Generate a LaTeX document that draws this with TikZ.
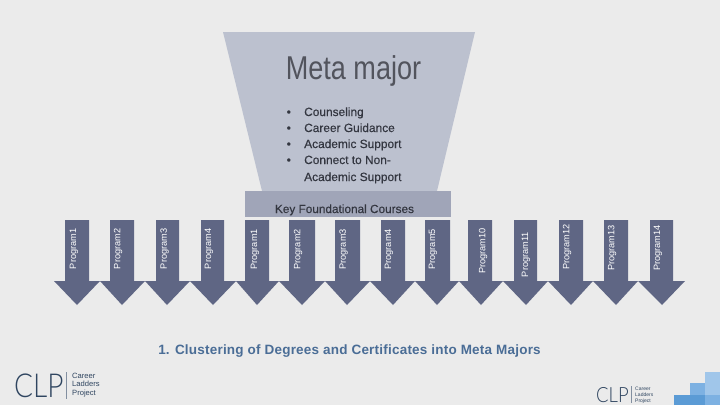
\documentclass[tikz,border=0pt]{standalone}
\usepackage{fontspec}
\setmainfont{Liberation Sans}
\newfontfamily\logofont{Lato Light}
\newfontfamily\fakebold[FakeBold=0.3]{Liberation Sans}
\newfontfamily\capfont[LetterSpace=1.6]{Liberation Sans Bold}
\definecolor{bgc}{HTML}{EBEBEB}
\definecolor{funnelc}{HTML}{BCC1CF}
\definecolor{bandc}{HTML}{A0A5B8}
\definecolor{arrowc}{HTML}{5F6684}
\definecolor{titlec}{HTML}{4A6D96}
\definecolor{inkc}{HTML}{333640}
\definecolor{logoc}{HTML}{2F4560}
\definecolor{bluea}{HTML}{5B9BD5}
\definecolor{blueb}{HTML}{7DB1E2}
\definecolor{bluec}{HTML}{A0C6EA}
\tikzset{
  x=1pt,y=-1pt,
  proglabel/.style={text=white,font=\fontsize{9.2}{10}\selectfont,rotate=90,anchor=east,inner sep=0pt},
  listitem/.style={text=inkc,font=\fakebold\fontsize{11.9}{12}\selectfont,anchor=base west,inner sep=0pt},
  logotxt/.style={text=logoc,anchor=base west,inner sep=0pt}
}
\newcommand{\progarrow}[5]{% shaft l, shaft r, head l, tip, head r
  \fill[arrowc] (#1,220) -- (#2,220) -- (#2,281) -- (#5,281) -- (#4,305) -- (#3,281) -- (#1,281) -- cycle;
}
\begin{document}
\begin{tikzpicture}
\useasboundingbox (0,0) rectangle (720,405);
\fill[bgc] (0,0) rectangle (720,405);
% funnel
\fill[funnelc] (223,32) -- (475,32) -- (437,191) -- (262,191) -- cycle;
\fill[bandc] (245,191) rectangle (451,217);
\node[text=inkc!85!white,inner sep=0pt,anchor=base] (title) at (353.5,79) {\fontsize{33}{34}\selectfont\scalebox{.82}[1]{Meta major}};
\foreach \y/\t [count=\i] in {116/Counseling,132/Career Guidance,148/Academic Support,164/Connect to Non-} {
  \node[listitem] (item\i) at (304,\y) {\t};
  \node[listitem] (bullet\i) at (286.5,\y) {\textbullet};
}
\node[listitem] (item5) at (304,181) {Academic Support};
\node[text=inkc,inner sep=0pt,anchor=base,font=\fakebold\fontsize{11.8}{12}\selectfont] (band) at (344.5,213) {Key Foundational Courses};
% arrows
\progarrow{65}{89}{54}{77}{100}
\progarrow{110}{134}{100}{122}{145}
\progarrow{156}{179}{145}{167}{190}
\progarrow{201}{224}{190}{213}{236}
\progarrow{245}{269}{236}{257}{279}
\progarrow{289}{315}{279}{302}{325}
\progarrow{335}{360}{325}{347}{370}
\progarrow{381}{405}{370}{393}{415}
\progarrow{425}{450}{415}{437}{459}
\progarrow{468}{492}{459}{481}{503}
\progarrow{514}{537}{503}{526}{548}
\progarrow{559}{583}{548}{571}{593}
\progarrow{604}{628}{593}{616}{638}
\progarrow{650}{673}{638}{662}{685}
\foreach \x/\y/\t [count=\i] in {74/228.5/Program1,118/228.5/Program2,164.5/228.5/Program3,209/228.5/Program4,255/229/Program1,298/229/Program2,343.5/229/Program3,389/229/Program4,433/229/Program5,483/228/Program10,526/232/Program11,567/224/Program12,612/225/Program13,658/225/Program14} {
  \node[proglabel] (prog\i) at (\x,\y) {\t};
}
\node[text=titlec,inner sep=0pt,anchor=base,font=\capfont\fontsize{13.5}{14}\selectfont] (caption) at (349.5,354) {1. Clustering of Degrees and Certificates into Meta Majors};
% left logo
\node[logotxt] (clpa) at (14,397) {\logofont\fontsize{33}{34}\selectfont\scalebox{.85}[1]{CLP}};
\draw[logoc!60,line width=.6pt] (66.7,372) -- (66.7,399);
\node[logotxt,font=\fontsize{7.6}{8.4}\selectfont,align=left,anchor=west] (cta) at (72,385) {Career\\Ladders\\Project};
% right logo
\node[logotxt] (clpb) at (596,402) {\logofont\fontsize{21}{22}\selectfont\scalebox{.88}[1]{CLP}};
\draw[logoc!60,line width=.5pt] (631,386) -- (631,403);
\node[logotxt,font=\fontsize{5}{6.2}\selectfont,align=left,anchor=west] (ctb) at (635,395) {Career\\Ladders\\Project};
% blocks
\fill[bluec] (705,372) rectangle (720,395);
\fill[blueb] (690,383) rectangle (705,395);
\fill[bluea] (674,395) rectangle (705,405);
\fill[blueb] (705,395) rectangle (720,405);
\end{tikzpicture}
\end{document}
